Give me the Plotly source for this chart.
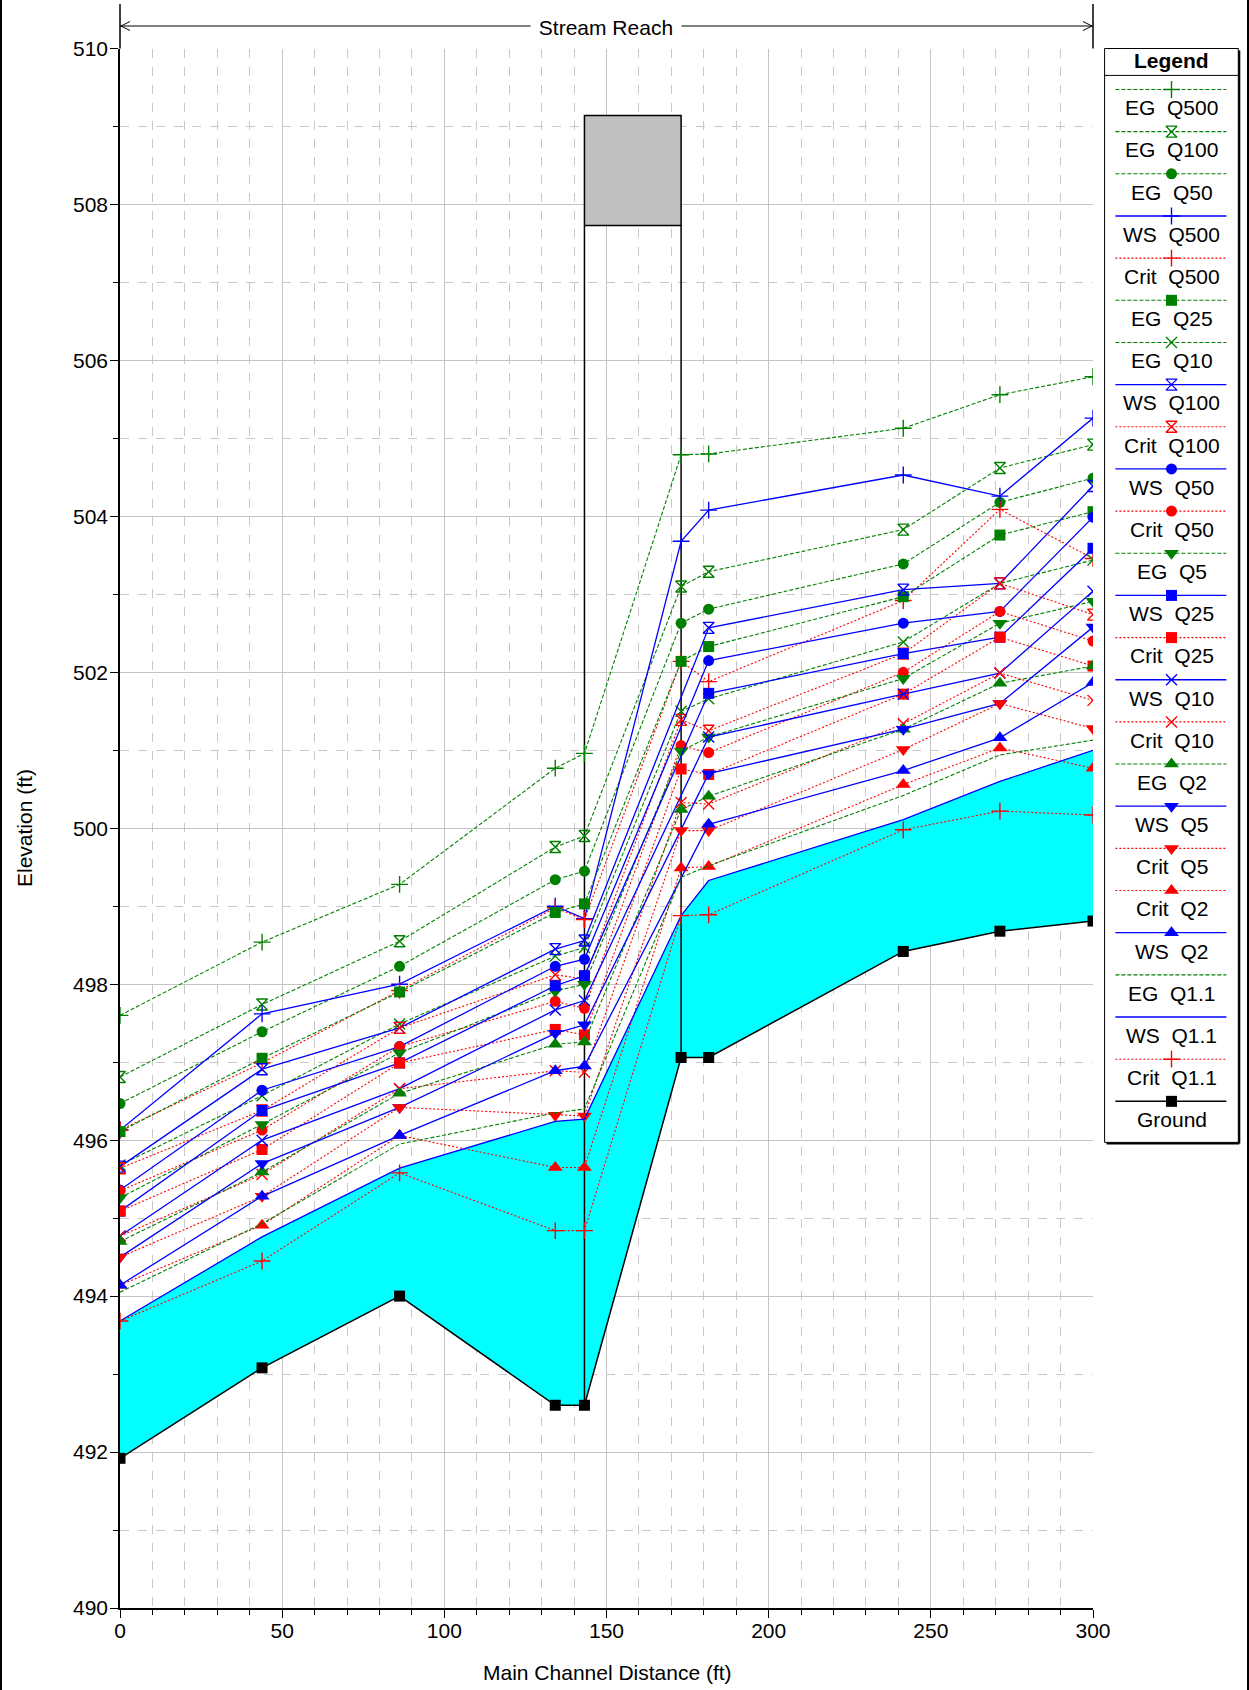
import plotly.graph_objects as go

# ---------------- profile data (elevations in ft) ----------------
stations = [0.0, 43.8, 86.2, 134.2, 143.2, 173.0, 181.5, 241.5, 271.3, 300.0]

eg_q500 = [497.60, 498.54, 499.28, 500.77, 500.96, 504.79, 504.80, 505.13, 505.56, 505.79]
eg_q100 = [496.81, 497.74, 498.55, 499.76, 499.90, 503.10, 503.29, 503.83, 504.62, 504.92]
eg_q50 = [496.47, 497.39, 498.23, 499.34, 499.45, 502.63, 502.81, 503.39, 504.18, 504.49]
ws_q500 = [496.13, 497.62, 498.00, 499.00, 498.84, 503.68, 504.08, 504.53, 504.26, 505.26]
crit_q500 = [496.13, 496.99, 497.92, 498.98, 498.83, 502.14, 501.88, 502.92, 504.09, 503.46]
eg_q25 = [496.11, 497.05, 497.90, 498.92, 499.03, 502.14, 502.33, 502.97, 503.76, 504.06]
eg_q10 = [495.68, 496.57, 497.49, 498.36, 498.47, 501.50, 501.66, 502.39, 503.14, 503.44]
ws_q100 = [495.66, 496.91, 497.44, 498.45, 498.56, None, 502.57, 503.06, 503.14, 504.39]
crit_q100 = [495.64, 496.38, 497.44, 498.12, 498.07, 501.39, 501.25, 502.24, 503.14, 502.74]
ws_q50 = [495.36, 496.64, 497.20, 498.23, 498.32, None, 502.15, 502.63, 502.78, 503.99]
crit_q50 = [495.35, 496.13, 497.20, 497.78, 497.69, 501.06, 500.97, 502.00, 502.78, 502.40]
eg_q5 = [495.26, 496.20, 497.12, 497.91, 498.00, 500.99, 501.17, 501.92, 502.63, 502.91]
ws_q25 = [495.09, 496.38, 496.99, 497.98, 498.11, None, 501.73, 502.24, 502.45, 503.59]
crit_q25 = [495.09, 495.88, 496.99, 497.42, 497.35, 500.76, 500.69, 501.72, 502.45, 502.08]
ws_q10 = [494.77, 496.00, 496.66, 497.67, 497.79, None, 501.17, 501.72, 501.99, 503.04]
crit_q10 = [494.77, 495.56, 496.66, 496.89, 496.87, 500.33, 500.31, 501.34, 501.99, 501.64]
eg_q2 = [494.70, 495.59, 496.60, 497.23, 497.26, 500.24, 500.41, 501.27, 501.86, 502.08]
ws_q5 = [494.50, 495.70, 496.42, 497.37, 497.48, None, 500.70, 501.27, 501.60, 502.58]
crit_q5 = [494.50, 495.28, 496.42, 496.32, 496.31, 499.97, 499.97, 501.01, 501.60, 501.28]
crit_q2 = [494.14, 494.91, 496.06, 495.65, 495.65, 499.49, 499.51, 500.56, 501.03, 500.77]
ws_q2 = [494.14, 495.28, 496.06, 496.89, 496.95, None, 500.05, 500.74, 501.16, 501.87]
eg_q11 = [494.05, 494.93, 495.95, 496.35, 496.40, 499.37, 499.52, 500.42, 500.94, 501.13]
ws_q11 = [493.68, 494.76, 495.64, 496.24, 496.27, 498.88, 499.33, 500.11, 500.60, 501.00]
crit_q11 = [493.68, 494.45, 495.58, 494.84, 494.84, 498.88, 498.89, 499.98, 500.22, 500.17]
ground = [491.92, 493.08, 494.00, 492.60, 492.60, 497.06, 497.06, 498.42, 498.68, 498.81]

# bridge deck
bridge_stations = [143.2, 173.0]
bridge_high_chord = 509.14
bridge_low_chord = 507.73

x_ticks = [0, 50, 100, 150, 200, 250, 300]
y_ticks = [490, 492, 494, 496, 498, 500, 502, 504, 506, 508, 510]

# legend order: (label, values, kind, marker symbol)
series = [
    ("EG\u00a0\u00a0Q500", eg_q500, "EG", "cross-thin"),
    ("EG\u00a0\u00a0Q100", eg_q100, "EG", "hourglass-open"),
    ("EG\u00a0\u00a0Q50", eg_q50, "EG", "circle"),
    ("WS\u00a0\u00a0Q500", ws_q500, "WS", "cross-thin"),
    ("Crit\u00a0\u00a0Q500", crit_q500, "Crit", "cross-thin"),
    ("EG\u00a0\u00a0Q25", eg_q25, "EG", "square"),
    ("EG\u00a0\u00a0Q10", eg_q10, "EG", "x-thin"),
    ("WS\u00a0\u00a0Q100", ws_q100, "WS", "hourglass-open"),
    ("Crit\u00a0\u00a0Q100", crit_q100, "Crit", "hourglass-open"),
    ("WS\u00a0\u00a0Q50", ws_q50, "WS", "circle"),
    ("Crit\u00a0\u00a0Q50", crit_q50, "Crit", "circle"),
    ("EG\u00a0\u00a0Q5", eg_q5, "EG", "triangle-down"),
    ("WS\u00a0\u00a0Q25", ws_q25, "WS", "square"),
    ("Crit\u00a0\u00a0Q25", crit_q25, "Crit", "square"),
    ("WS\u00a0\u00a0Q10", ws_q10, "WS", "x-thin"),
    ("Crit\u00a0\u00a0Q10", crit_q10, "Crit", "x-thin"),
    ("EG\u00a0\u00a0Q2", eg_q2, "EG", "triangle-up"),
    ("WS\u00a0\u00a0Q5", ws_q5, "WS", "triangle-down"),
    ("Crit\u00a0\u00a0Q5", crit_q5, "Crit", "triangle-down"),
    ("Crit\u00a0\u00a0Q2", crit_q2, "Crit", "triangle-up"),
    ("WS\u00a0\u00a0Q2", ws_q2, "WS", "triangle-up"),
    ("EG\u00a0\u00a0Q1.1", eg_q11, "EG", None),
    ("WS\u00a0\u00a0Q1.1", ws_q11, "WS", None),
    ("Crit\u00a0\u00a0Q1.1", crit_q11, "Crit", "cross-thin"),
    ("Ground", ground, "Ground", "square"),
]

# ---------------- styling ----------------
FONT = "Liberation Sans, Arial, sans-serif"
FS = 21
line_styles = {
    "EG": dict(color="#008000", dash="4px,2px", width=1.1),
    "WS": dict(color="#0000FF", dash="solid", width=1.3),
    "Crit": dict(color="#FF0000", dash="2px,2px", width=1.1),
    "Ground": dict(color="#000000", dash="solid", width=1.5),
}
marker_sizes = {"circle": 11, "square": 11, "triangle-up": 13, "triangle-down": 13,
                "cross-thin": 12, "x-thin": 11, "hourglass-open": 11}
open_symbols = {"cross-thin", "x-thin", "hourglass-open"}


def marker_for(kind, symbol):
    color = line_styles[kind]["color"]
    if symbol is None:
        return None
    lw = 1.4 if symbol in open_symbols else 0
    return dict(symbol=symbol, size=marker_sizes[symbol], color=color,
                line=dict(color=color, width=lw))


# page geometry
W, H = 1249, 1690
ML, MR, MT, MB = 120, 4, 40, 82
PW, PH = W - ML - MR, H - MT - MB


def px(x):
    return (x - ML) / PW


def py(y):
    return (H - MB - y) / PH


fig = go.Figure()

# water between ground and the lowest water surface
fig.add_trace(go.Scatter(
    x=stations + stations[::-1], y=ws_q11 + ground[::-1],
    fill="toself", fillcolor="#00FFFF", mode="none",
    hoverinfo="skip", showlegend=False))

# bridge deck and abutment lines
fig.add_trace(go.Scatter(
    x=[bridge_stations[0], bridge_stations[1], bridge_stations[1], bridge_stations[0], bridge_stations[0]],
    y=[bridge_low_chord, bridge_low_chord, bridge_high_chord, bridge_high_chord, bridge_low_chord],
    fill="toself", fillcolor="#C0C0C0", mode="lines",
    line=dict(color="black", width=1.5), hoverinfo="skip", showlegend=False))
for bs in bridge_stations:
    g = ground[stations.index(bs)]
    fig.add_trace(go.Scatter(
        x=[bs, bs], y=[g, bridge_low_chord], mode="lines",
        line=dict(color="black", width=1.5), hoverinfo="skip", showlegend=False))

# profile lines
for label, vals, kind, sym in series:
    st = line_styles[kind]
    mk = marker_for(kind, sym)
    fig.add_trace(go.Scatter(
        x=stations, y=vals, name=label.replace("\u00a0", " "),
        mode="lines+markers" if mk else "lines",
        line=dict(color=st["color"], dash=st["dash"], width=st["width"]),
        marker=mk, connectgaps=True, showlegend=False))

# ---------------- custom legend panel ----------------
LX0, LX1 = 1104.6, 1238.3
LY0, LY1 = 48.5, 1142.4
row0_line, row0_text, row_step = 89.5, 107.8, 42.16
samp_x0, samp_x1, samp_xc = 1115.4, 1226.4, 1171.5

annotations = []
shapes = []

for i, (label, vals, kind, sym) in enumerate(series):
    st = line_styles[kind]
    yl = row0_line + row_step * i
    fig.add_trace(go.Scatter(
        x=[samp_x0, samp_x1], y=[yl, yl], mode="lines",
        line=dict(color=st["color"], dash=st["dash"], width=st["width"]),
        xaxis="x2", yaxis="y2", hoverinfo="skip", showlegend=False))
    mk = marker_for(kind, sym)
    if mk:
        fig.add_trace(go.Scatter(
            x=[samp_xc], y=[yl], mode="markers", marker=mk,
            xaxis="x2", yaxis="y2", hoverinfo="skip", showlegend=False))
    annotations.append(dict(
        x=samp_xc, y=row0_text + row_step * i, xref="x2", yref="y2",
        text=label, showarrow=False, font=dict(family=FONT, size=FS, color="black"),
        xanchor="center", yanchor="middle"))

annotations.append(dict(
    x=(LX0 + LX1) / 2, y=61, xref="x2", yref="y2", text="<b>Legend</b>",
    showarrow=False, font=dict(family=FONT, size=FS, color="black"),
    xanchor="center", yanchor="middle"))

shapes += [
    dict(type="rect", xref="x2", yref="y2", x0=LX0, x1=LX1, y0=LY0, y1=LY1,
         line=dict(color="black", width=1), layer="above"),
    dict(type="line", xref="x2", yref="y2", x0=LX1 + 1, x1=LX1 + 1, y0=LY0 + 2, y1=LY1 + 1,
         line=dict(color="black", width=2)),
    dict(type="line", xref="x2", yref="y2", x0=LX0 + 2, x1=LX1 + 1, y0=LY1 + 1, y1=LY1 + 1,
         line=dict(color="black", width=2)),
    dict(type="line", xref="x2", yref="y2", x0=LX0, x1=LX1, y0=75.4, y1=75.4,
         line=dict(color="black", width=1)),
]

# ---------------- reach annotation above the plot ----------------
XL, XR = 120, 1093
YR = 26
shapes += [
    dict(type="line", xref="paper", yref="paper", x0=px(XL), x1=px(XR), y0=py(YR), y1=py(YR),
         line=dict(color="black", width=1)),
    dict(type="line", xref="paper", yref="paper", x0=px(XL), x1=px(XL), y0=py(4), y1=py(48.5),
         line=dict(color="black", width=1.5)),
    dict(type="line", xref="paper", yref="paper", x0=px(XR), x1=px(XR), y0=py(4), y1=py(48.5),
         line=dict(color="black", width=1.5)),
    dict(type="path", xref="paper", yref="paper",
         path=f"M {px(XL + 10)} {py(YR - 4.5)} L {px(XL + 1)} {py(YR)} L {px(XL + 10)} {py(YR + 4.5)}",
         line=dict(color="black", width=1)),
    dict(type="path", xref="paper", yref="paper",
         path=f"M {px(XR - 10)} {py(YR - 4.5)} L {px(XR - 1)} {py(YR)} L {px(XR - 10)} {py(YR + 4.5)}",
         line=dict(color="black", width=1)),
    # page side rules
    dict(type="line", xref="paper", yref="paper", x0=px(1), x1=px(1), y0=py(0), y1=py(H),
         line=dict(color="black", width=2)),
    dict(type="line", xref="paper", yref="paper", x0=px(W - 1), x1=px(W - 1), y0=py(0), y1=py(H),
         line=dict(color="black", width=2)),
]
annotations.append(dict(
    x=px(606), y=py(YR + 1), xref="paper", yref="paper", text="\u00a0Stream Reach\u00a0",
    showarrow=False, bgcolor="white", borderpad=2,
    font=dict(family=FONT, size=FS, color="black"), xanchor="center", yanchor="middle"))

# axis titles
annotations.append(dict(
    x=px(24), y=py(828), xref="paper", yref="paper", text="Elevation (ft)",
    textangle=-90, showarrow=False, font=dict(family=FONT, size=FS, color="black"),
    xanchor="center", yanchor="middle"))
annotations.append(dict(
    x=px(607), y=py(1672), xref="paper", yref="paper", text="Main Channel Distance (ft)",
    showarrow=False, font=dict(family=FONT, size=FS, color="black"),
    xanchor="center", yanchor="middle"))

grid_major = "#C4C4C4"
grid_minor = "#C8C8C8"

fig.update_layout(
    width=W, height=H,
    margin=dict(l=ML, r=MR, t=MT, b=MB, autoexpand=False),
    paper_bgcolor="white", plot_bgcolor="white",
    font=dict(family=FONT, size=FS, color="black"),
    showlegend=False,
    xaxis=dict(
        domain=[0, px(XR)], range=[0, 300], tickvals=x_ticks, ticktext=[str(v) for v in x_ticks],
        ticks="outside", ticklen=8, tickcolor="black", tickwidth=1, ticklabelstandoff=-5,
        showline=True, linecolor="black", linewidth=1.5, zeroline=False,
        showgrid=True, gridcolor=grid_major, gridwidth=1,
        minor=dict(dtick=10, tick0=0, ticks="outside", ticklen=5, tickcolor="black",
                   showgrid=True, gridcolor=grid_minor, griddash="dash", gridwidth=1),
        tickfont=dict(family=FONT, size=FS, color="black"), automargin=False, fixedrange=True),
    yaxis=dict(
        domain=[py(1608), py(48.5)], range=[490, 510], tickvals=y_ticks,
        ticktext=[str(v) for v in y_ticks],
        ticks="outside", ticklen=8, tickcolor="black", tickwidth=1, ticklabelstandoff=-2,
        showline=True, linecolor="black", linewidth=1.5, zeroline=False,
        showgrid=True, gridcolor=grid_major, gridwidth=1,
        minor=dict(dtick=1, tick0=490, ticks="outside", ticklen=5, tickcolor="black",
                   showgrid=True, gridcolor=grid_minor, griddash="dash", gridwidth=1),
        tickfont=dict(family=FONT, size=FS, color="black"), automargin=False, fixedrange=True),
    xaxis2=dict(domain=[px(1100), px(1242)], range=[1100, 1242], visible=False,
                fixedrange=True, anchor="y2"),
    yaxis2=dict(domain=[py(1146), py(44)], range=[1146, 44], visible=False,
                fixedrange=True, anchor="x2"),
    shapes=shapes,
    annotations=annotations,
)

fig.write_html("out.html")
